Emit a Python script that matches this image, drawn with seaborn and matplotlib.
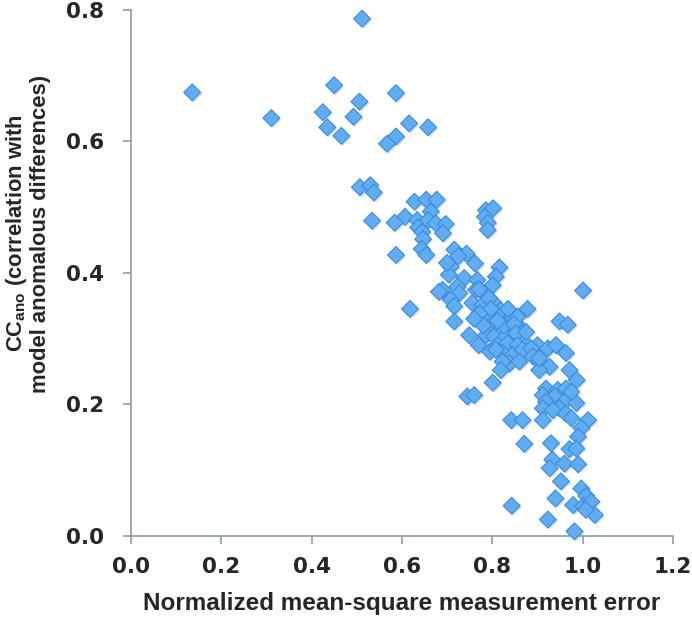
import matplotlib
matplotlib.use("Agg")
import matplotlib.pyplot as plt
import matplotlib.patheffects as pe
import seaborn as sns
import pandas as pd

# Values
msq_error = [
    0.136, 0.311, 0.512, 0.450, 0.506, 0.425, 0.493, 0.435, 0.466, 0.587,
    0.616, 0.658, 0.587, 0.567, 0.507, 0.530, 0.538, 0.534,
    0.628, 0.654, 0.677, 0.664, 0.607, 0.584, 0.634, 0.658, 0.675, 0.697,
    0.636, 0.645, 0.691, 0.647, 0.644, 0.654, 0.587,
    0.786, 0.802, 0.784, 0.790, 0.790,
    0.716, 0.743, 0.762, 0.708, 0.704, 0.738, 0.767, 0.816, 0.808, 0.801,
    0.690, 0.723, 0.727, 0.764, 0.782, 0.771, 0.708, 0.716, 0.756, 0.778,
    0.801, 0.793, 0.819, 0.878, 0.791, 0.842, 0.856, 0.716, 0.791, 0.819,
    0.842, 0.867, 0.749, 0.786, 0.804, 0.830, 0.860, 0.618, 1.001, 0.682,
    0.725, 0.700, 0.770, 0.795, 0.812, 0.826, 0.848, 0.812, 0.797, 0.772,
    0.835, 0.850, 0.870, 0.900, 0.780, 0.760,
    0.853, 0.875, 0.834, 0.856, 0.823, 0.845, 0.867, 0.886, 0.890, 0.904,
    0.927, 0.923, 0.941, 0.963, 0.838, 0.860, 0.904, 0.823, 0.808, 0.819,
    0.949, 0.967, 0.971, 0.987, 0.904,
    0.801, 0.745, 0.760,
    0.919, 0.945, 0.963, 0.912, 0.938, 0.960, 0.919, 0.949, 0.912, 0.934,
    0.963, 0.986, 0.975, 0.975, 1.012, 0.997, 0.990,
    0.842, 0.867, 0.912,
    0.871, 0.930, 0.971, 0.986, 0.933, 0.927, 0.960, 0.990, 0.952, 0.997,
    0.940, 1.008, 0.979, 1.001, 1.019, 1.027, 1.007, 0.843, 0.923, 0.982,
]
cc_ano = [
    0.674, 0.635, 0.786, 0.685, 0.660, 0.644, 0.637, 0.621, 0.608, 0.673,
    0.627, 0.621, 0.607, 0.596, 0.530, 0.533, 0.522, 0.479,
    0.508, 0.511, 0.511, 0.493, 0.485, 0.476, 0.480, 0.480, 0.475, 0.474,
    0.469, 0.462, 0.460, 0.451, 0.436, 0.427, 0.427,
    0.495, 0.498, 0.485, 0.476, 0.465,
    0.435, 0.429, 0.414, 0.409, 0.397, 0.392, 0.389, 0.408, 0.394, 0.381,
    0.374, 0.379, 0.369, 0.374, 0.369, 0.375, 0.359, 0.349, 0.354, 0.351,
    0.356, 0.361, 0.343, 0.345, 0.333, 0.331, 0.333, 0.326, 0.318, 0.316,
    0.313, 0.313, 0.305, 0.305, 0.303, 0.303, 0.303, 0.345, 0.373, 0.371,
    0.425, 0.415, 0.290, 0.280, 0.290, 0.320, 0.322, 0.327, 0.345, 0.338,
    0.345, 0.300, 0.295, 0.290, 0.320, 0.330,
    0.308, 0.310, 0.293, 0.290, 0.278, 0.275, 0.283, 0.285, 0.273, 0.265,
    0.257, 0.285, 0.290, 0.278, 0.262, 0.265, 0.252, 0.265, 0.283, 0.252,
    0.326, 0.321, 0.252, 0.237, 0.270,
    0.233, 0.212, 0.214,
    0.224, 0.222, 0.224, 0.214, 0.212, 0.204, 0.204, 0.194, 0.194, 0.191,
    0.186, 0.202, 0.219, 0.179, 0.176, 0.164, 0.151,
    0.176, 0.176, 0.176,
    0.140, 0.141, 0.132, 0.133, 0.116, 0.103, 0.110, 0.109, 0.083, 0.072,
    0.057, 0.061, 0.047, 0.045, 0.052, 0.032, 0.040, 0.046, 0.025, 0.007,
]
x_ticks = [0.0, 0.2, 0.4, 0.6, 0.8, 1.0, 1.2]
y_ticks = [0.0, 0.2, 0.4, 0.6, 0.8]

df = pd.DataFrame({"err": msq_error, "cc": cc_ano})

sns.set_style("white")
plt.rcParams["font.family"] = ["DejaVu Sans"]

fig = plt.figure(figsize=(6.92, 6.26), dpi=100)
ax = fig.add_axes([0.189, 0.1438, 0.7835, 0.841])

sns.scatterplot(data=df, x="err", y="cc", marker="D", s=74,
                color="#62ADF2", edgecolor="#3A8CDC", linewidth=0.8, ax=ax,
                clip_on=False, zorder=3)
ax.collections[0].set_path_effects([
    pe.SimplePatchShadow(offset=(1.2, -1.2), shadow_rgbFace="#9aa4b0", alpha=0.35),
    pe.Normal()])

ax.set_xlim(0, 1.2)
ax.set_ylim(0, 0.8)
ax.set_xticks(x_ticks)
ax.set_yticks(y_ticks)
ax.set_xticklabels([f"{v:.1f}" for v in x_ticks], fontsize=15.5, fontweight="bold")
ax.set_yticklabels([f"{v:.1f}" for v in y_ticks], fontsize=15.5, fontweight="bold")

spine_col = "#8C9CA2"
for side in ["top", "right"]:
    ax.spines[side].set_visible(False)
for side in ["left", "bottom"]:
    ax.spines[side].set_color(spine_col)
    ax.spines[side].set_linewidth(1.2)
ax.tick_params(axis="both", direction="out", length=6, width=1.2,
               color=spine_col, left=True, bottom=True)
ax.tick_params(axis="y", pad=13)
ax.tick_params(axis="x", pad=9)

ax.set_xlabel("Normalized mean-square measurement error",
              fontsize=17.5, fontweight="bold", family="Liberation Sans", labelpad=11)
ax.set_ylabel("")
fig.text(0.040, 0.627,
         "CC$_{\\mathregular{ano}}$ (correlation with\nmodel anomalous differences)",
         rotation=90, ha="center", va="center", multialignment="center",
         fontsize=15.8, fontweight="bold", family="Liberation Sans",
         linespacing=1.05)

fig.savefig("out.png", dpi=100)
